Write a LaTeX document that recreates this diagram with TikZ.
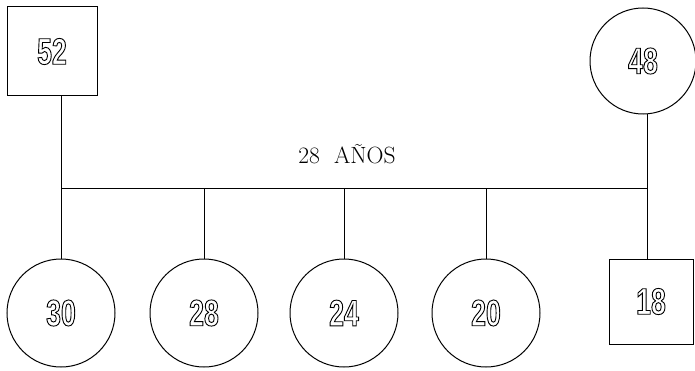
\documentclass[tikz,border=0pt]{standalone}
\usepackage{fontspec}
\newfontfamily\numfont[FakeStretch=0.72]{Liberation Sans}
\usetikzlibrary{positioning}
\newcommand{\hollow}[1]{\special{pdf:code 1 Tr 0.9 w}#1\special{pdf:code 0 Tr}}

\begin{document}
\begin{tikzpicture}[x=1pt, y=1pt, line width=1pt,
  kid/.style={circle, draw, minimum size=108pt, inner sep=0pt,
    font=\numfont\bfseries\fontsize{37}{37}\selectfont},
  box/.style={rectangle, draw, inner sep=0pt,
    font=\numfont\bfseries\fontsize{37}{37}\selectfont}]
\useasboundingbox (0,0) rectangle (695,370);

\node[box, minimum width=90pt, minimum height=89pt] (f52) at (52, 318.5) {\hollow{52}};
\node[kid, minimum size=106pt] (m48) at (643, 309) {\hollow{48}};

\node[kid] (k30) at (61, 57) {\hollow{30}};
\node[kid] (k28) at (204, 57) {\hollow{28}};
\node[kid] (k24) at (344, 57) {\hollow{24}};
\node[kid] (k20) at (486, 57) {\hollow{20}};
\node[box, minimum width=84pt, minimum height=85pt] (k18) at (651, 68.5) {\hollow{18}};

\node[font=\fontsize{23.5}{28}\selectfont] (age) at (347, 216) {28~~AÑOS};

\coordinate (barl) at (61, 182);
\coordinate (barr) at (647, 182);

\draw (barl) -- (barr);
\draw (f52.south -| barl) -- (barl);
\draw (m48.south -| barr) -- (k18.north -| barr);
\foreach \k in {k30, k28, k24, k20}
  \draw (\k.north) -- (\k.north |- barl);
\end{tikzpicture}
\end{document}
